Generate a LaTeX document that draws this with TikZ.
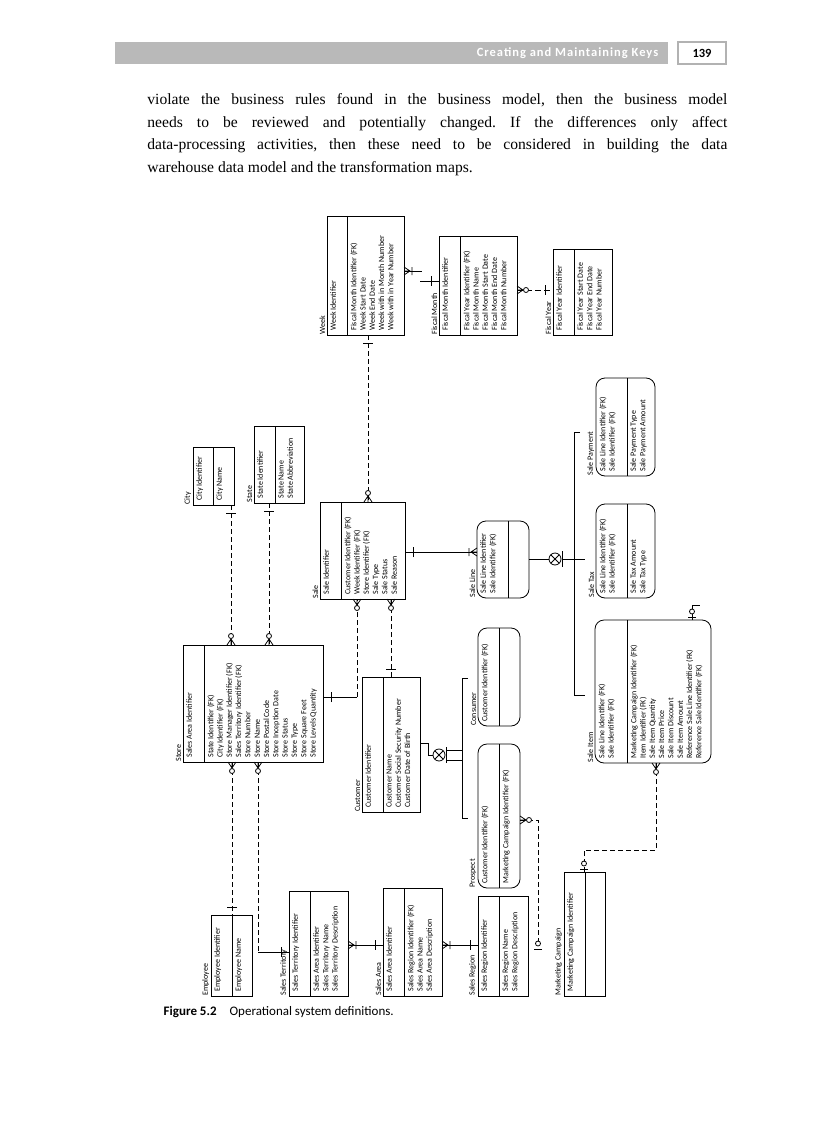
\documentclass[tikz,border=0pt]{standalone}
\usepackage{fontspec}
\setmainfont{Liberation Serif}
\newfontfamily\bodyf{Liberation Serif}
\newfontfamily\dg{Carlito}
\newfontfamily\hdf[LetterSpace=8]{Carlito}
\frenchspacing
\begin{document}
\begin{tikzpicture}[x=1pt,y=1pt,line width=.8pt,
  dsh/.style={dash pattern=on 5pt off 3pt},
  zm/.pic={\draw (0,-4)--(6,0)--(0,4) (0,0)--(6,0); \draw[fill=white] (9,0) circle (2.5);},
  om/.pic={\draw (0,-4)--(6,0)--(0,4) (0,0)--(6,0) (8,-4)--(8,4);},
  ob/.pic={\draw (8,-5)--(8,5);},
  zo/.pic={\draw (3,-4)--(3,4); \draw[fill=white] (8.5,0) circle (2.5);},
  dt/.style={font=\dg\fontsize{8}{9.3}\selectfont,inner sep=0pt,align=left,rotate=90}]
\useasboundingbox (0,0) rectangle (816,-1123);
\newcommand\ent[9][]{%
  \draw[#1] (#2,-#3) rectangle (#4,-#5);
  \draw (#6,-#3)--(#6,-#5);
  \node[dt,anchor=south west] at (#2-1.5,-#5) {#7};
  \node[dt,anchor=north west] at (#2+3,-#5+4) {#8};
  \node[dt,anchor=north west] at (#6+3,-#5+4) {#9};}
% header
\fill[gray!55] (115,-42) rectangle (668,-64);
\node[anchor=east,text=white,font=\hdf\bfseries\fontsize{12.5}{13}\selectfont] (hd) at (662,-53) {Creating and Maintaining Keys};
\draw[gray!60,line width=1.5pt] (678,-42) rectangle (726,-64);
\node[font=\dg\bfseries\fontsize{12.5}{13}\selectfont] (pg) at (702,-53) {139};
\node[anchor=north west,inner sep=0pt,font=\bodyf\fontsize{15.6}{22.7}\selectfont] (body) at (147,-93) {\parbox{580pt}{\frenchspacing violate the business rules found in the business model, then the business model\linebreak needs to be reviewed and potentially changed. If the differences only affect\linebreak data-processing activities, then these need to be considered in building the data\linebreak warehouse data model and the transformation maps.}};
% entities
\ent{183}{645}{323}{762}{204}{Store}{Sales Area Identifier}{State Identifier (FK)\\City Identifier (FK)\\Store Manager Identifier (FK)\\Sales Territory Identifier (FK)\\Store Number\\Store Name\\Store Postal Code\\Store Inception Date\\Store Status\\Store Type\\Store Square Feet\\Store Levels Quantity}
\ent{211}{915}{252}{996}{232}{Employee}{Employee Identifier}{Employee Name}
\ent{289}{891}{348}{996}{310}{Sales Territory}{Sales Territory Identifier}{Sales Area Identifier\\Sales Territory Name\\Sales Territory Description}
\ent{383}{888}{442}{996}{404}{Sales Area}{Sales Area Identifier}{Sales Region Identifier (FK)\\Sales Area Name\\Sales Area Description}
\ent{478}{896}{528}{996}{499}{Sales Region}{Sales Region Identifier}{Sales Region Name\\Sales Region Description}
\ent{564}{872}{605}{996}{585}{Marketing Campaign}{Marketing Campaign Identifier}{}
\ent{362}{677}{420}{812}{383}{Customer}{Customer Identifier}{Customer Name\\Customer Social Security Number\\Customer Date of Birth}
\ent[rounded corners=9pt]{478}{744}{520}{888}{499}{Prospect}{Customer Identifier (FK)}{Marketing Campaign Identifier (FK)}
\ent[rounded corners=9pt]{478}{628}{520}{726}{499}{Consumer}{Customer Identifier (FK)}{}
\ent{320}{502}{405}{599}{341}{Sale}{Sale Identifier}{Customer Identifier (FK)\\Week Identifier (FK)\\Store Identifier (FK)\\Sale Type\\Sale Status\\Sale Reason}
\ent{193}{447}{234}{505}{213}{City}{City Identifier}{City Name}
\ent{254}{426}{304}{503}{275}{State}{State Identifier}{State Name\\State Abbreviation}
\ent{327}{216}{404}{335}{347}{Week}{Week Identifier}{Fiscal Month Identifier (FK)\\Week Start Date\\Week End Date\\Week with in Month Number\\Week with in Year Number}
\ent{439}{236}{517}{335}{460}{Fiscal Month}{Fiscal Month Identifier}{Fiscal Year Identifier (FK)\\Fiscal Month Name\\Fiscal Month Start Date\\Fiscal Month End Date\\Fiscal Month Number}
\ent{553}{249}{612}{335}{574}{Fiscal Year}{Fiscal Year Identifier}{Fiscal Year Start Date\\Fiscal Year End Date\\Fiscal Year Number}
\ent[rounded corners=9pt]{477}{521}{529}{598}{508}{Sale Line}{Sale Line Identifier\\Sale Identifier (FK)}{}
\ent[rounded corners=9pt]{596}{504}{655}{598}{627}{Sale Tax}{Sale Line Identifier (FK)\\Sale Identifier (FK)}{Sale Tax Amount\\Sale Tax Type}
\ent[rounded corners=9pt]{596}{378}{655}{476}{627}{Sale Payment}{Sale Line Identifier (FK)\\Sale Identifier (FK)}{Sale Payment Type\\Sale Payment Amount}
\ent[rounded corners=9pt]{595}{620}{711}{763}{627}{Sale Item}{Sale Line Identifier (FK)\\Sale Identifier (FK)}{Marketing Campaign Identifier (FK)\\Item Identifier (FK)\\Sale Item Quantity\\Sale Item Price\\Sale Item Discount\\Sale Item Amount\\Reference Sale Line Identifier (FK)\\Reference Sale Identifier (FK)}
% connectors
\draw[dsh] (232,-762)--(232,-915); \pic[rotate=-90] at (232,-762){zm}; \pic[rotate=90] at (232,-915){ob};
\draw[dsh] (258,-762)--(258,-952); \draw (258,-952)--(289,-952); \pic[rotate=-90] at (258,-762){zm}; \pic[rotate=180] at (289,-952){ob};
\draw (348,-945)--(383,-945); \pic at (348,-945){om}; \pic[rotate=180] at (383,-945){ob};
\draw (442,-945)--(478,-945); \pic at (442,-945){om}; \pic[rotate=180] at (478,-945){ob};
\draw[dsh] (520,-820)--(538,-820)--(538,-945); \pic at (520,-820){zm}; \pic[rotate=90] at (538,-952){zo};
\draw[dsh] (584,-872)--(584,-850)--(656,-850)--(656,-763); \pic[rotate=90] at (584,-872){zo}; \pic[rotate=-90] at (656,-763){zm};
\draw[dsh] (231,-505)--(231,-645); \pic[rotate=-90] at (231,-505){ob}; \pic[rotate=90] at (231,-645){zm};
\draw[dsh] (269,-503)--(269,-645); \pic[rotate=-90] at (269,-503){ob}; \pic[rotate=90] at (269,-645){zm};
\draw (323,-697)--(357,-697); \draw[dsh] (357,-697)--(357,-599); \pic at (323,-697){ob}; \pic[rotate=-90] at (357,-599){zm};
\draw[dsh] (391,-677)--(391,-599); \pic[rotate=90] at (391,-677){ob}; \pic[rotate=-90] at (391,-599){zm};
\draw[dsh] (368,-335)--(368,-502); \pic[rotate=-90] at (368,-335){ob}; \pic[rotate=90] at (368,-502){zm};
\draw (405,-552)--(477,-552); \pic at (405,-552){ob}; \pic[rotate=180] at (477,-552){om};
\draw (404,-271)--(422,-271); \pic at (404,-271){om};
\draw (420,-281)--(439,-281); \pic[rotate=180] at (439,-281){ob};
\draw[dash pattern=on 6pt off 3pt] (517,-290)--(553,-290); \pic at (517,-290){zm}; \pic[rotate=180] at (553,-290){ob};
\draw (692,-620)--(692,-605)--(700,-605); \pic[rotate=90] at (692,-620){zo};
% customer subtype
\draw (420,-743)--(428,-743)--(428,-755)--(433,-755);
\draw (439,-755) circle (6); \draw (434.8,-750.8)--(443.2,-759.2) (434.8,-759.2)--(443.2,-750.8);
\draw (446,-747)--(446,-763);
\draw (446,-750)--(462,-750) (446,-760)--(462,-760);
\draw (468,-678)--(462,-678)--(462,-818)--(468,-818);
% sale line subtype
\draw (529,-559)--(549,-559);
\draw (555,-559) circle (6); \draw (550.8,-554.8)--(559.2,-563.2) (550.8,-563.2)--(559.2,-554.8);
\draw (562,-551)--(562,-567);
\draw (562,-559)--(585,-559);
\draw (580,-432)--(574,-432)--(574,-695)--(585,-695);
% caption
\node[anchor=west,font=\dg\fontsize{13}{15}\selectfont] (cap) at (160,-1012) {\textbf{Figure 5.2}\quad Operational system definitions.};
\end{tikzpicture}
\end{document}
